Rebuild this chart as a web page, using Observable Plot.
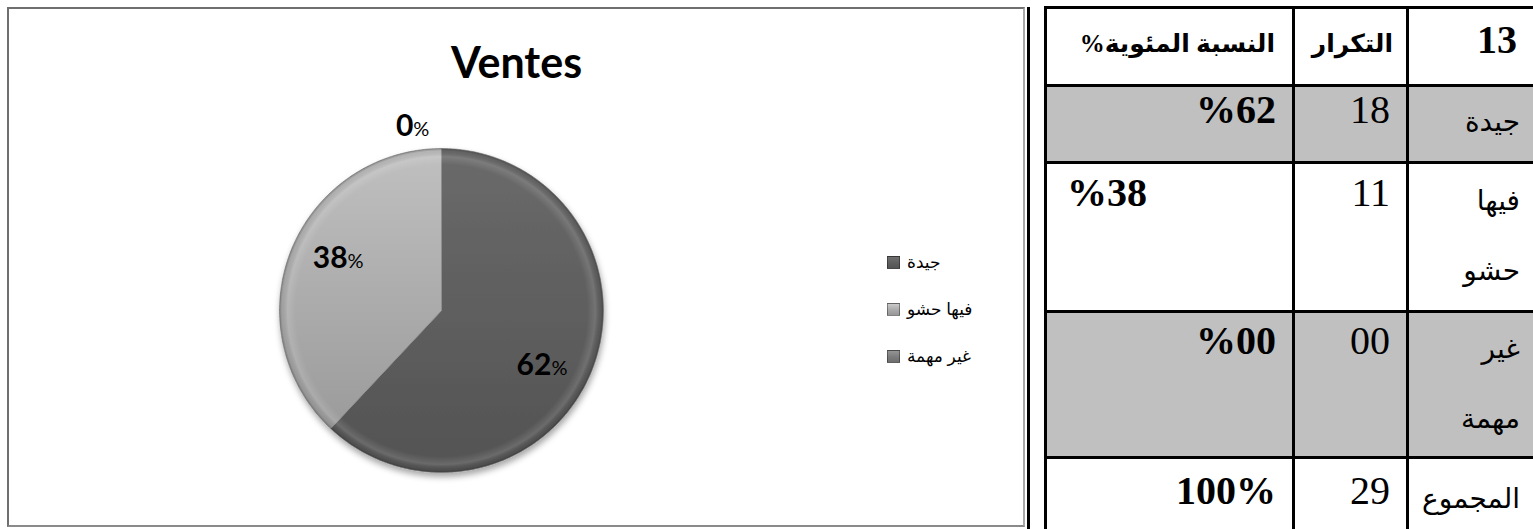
<!DOCTYPE html>
<html>
<head>
<meta charset="utf-8">
<script src="https://cdn.jsdelivr.net/npm/d3@7"></script>
<script src="https://cdn.jsdelivr.net/npm/@observablehq/plot@0.6"></script>
<style>
  html, body { margin: 0; padding: 0; background: #fff; }
  body { width: 1533px; height: 529px; overflow: hidden; position: relative; }
  #box { position: absolute; left: 7px; top: 7px; width: 1018px; height: 520px; box-sizing: border-box;
         border: 2px solid #6f6f6f; border-right-color: #a8a8a8; border-bottom-color: #8a8a8a; }
  #chart { position: absolute; left: 0; top: 0; }
  #vline { position: absolute; left: 1027px; top: 7px; width: 3px; height: 522px; background: #000; }
  #legend { position: absolute; left: 887px; top: 239px; }
  .lrow { height: 47px; display: flex; align-items: center; }
  .sw { width: 13px; height: 13px; box-sizing: border-box; border: 1px solid rgba(0,0,0,0.35); }
  .lt { margin-left: 7px; font-family: "Liberation Sans", Arial, "DejaVu Sans", sans-serif; font-size: 17px; color: #000; direction: rtl; white-space: nowrap; }
  #tbl { position: absolute; left: 1044px; top: 6px; display: grid;
         grid-template-columns: 248px 114px 134px; grid-template-rows: 78px 77px 149px 146px 80px; }
  .cell { box-sizing: border-box; border-left: 3px solid #000; border-top: 3px solid #000; overflow: hidden;
          font-family: "Liberation Serif", "Times New Roman", "DejaVu Sans", serif; color: #000; }
  .grey { background: #c0c0c0; }
  .num { font-size: 40px; line-height: 46px; direction: ltr; white-space: nowrap; }
  .bold { font-weight: bold; }
  .ar { font-size: 28px; line-height: 70px; direction: rtl; text-align: right; padding-right: 20px; white-space: nowrap; }
</style>
</head>
<body>
<div id="box"><div id="chart"></div></div>
<div id="vline"></div>
<div id="legend"></div>
<div id="tbl"></div>
<script>
// ---------- data ----------
const chartTitle = "Ventes";
const categories = ["جيدة", "فيها حشو", "غير مهمة"];
const counts = [18, 11, 0];
const percents = [62, 38, 0];
const countLabels = ["18", "11", "00"];
const percentLabels = ["%62", "%38", "%00"];
const headerLabels = ["13", "التكرار", "النسبة المئوية%"];
const totalLabel = "المجموع";
const totalCount = "29";
const totalPercent = "100%";

// ---------- styles ----------
const sliceFills = ["url(#gDark)", "url(#gLight)", "url(#gMid)"];
const swatchColors = ["#5e5e5e", "#a9a9a9", "#7c7c7c"];

// ---------- pie ----------
const W = 1014, H = 516, CX = 432, CY = 301, R = 162;
const rows = categories.map((c, i) => ({cat: c, pct: percents[i], i}));
const arcs = d3.pie().sort(null).value(d => d.pct)(rows);
const toXY = (a, r) => ({x: r * Math.sin(a), y: r * Math.cos(a)});

const slicePts = arcs.map(a => {
  const pts = [{x: 0, y: 0}];
  const n = Math.max(1, Math.ceil((a.endAngle - a.startAngle) / (Math.PI / 360)));
  for (let k = 0; k <= n; k++) pts.push(toXY(a.startAngle + (a.endAngle - a.startAngle) * k / n, 1));
  pts.push({x: 0, y: 0});
  return pts;
});

const labels = arcs.map(a => {
  const mid = (a.startAngle + a.endAngle) / 2;
  const inside = a.data.pct > 0;
  const ang = mid + (inside ? 6 : -8.5) * Math.PI / 180;
  const r = inside ? 0.71 : 1.155;
  const num = String(a.data.pct);
  const shift = ((num.length * 17 - 18) / 2) / R;
  const p = toXY(ang, r);
  return {num, x: p.x + shift, y: p.y - 11 / R};
});

const plot = Plot.plot({
  width: W, height: H, margin: 0,
  x: {domain: [-1, 1], range: [CX - R, CX + R], axis: null},
  y: {domain: [-1, 1], range: [CY + R, CY - R], axis: null},
  marks: [
    ...slicePts.map((pts, i) => Plot.line(pts, {x: "x", y: "y", fill: sliceFills[i], stroke: "#8f8f8f", strokeWidth: 0.8, strokeLinejoin: "round"})),
    Plot.dot([{x: 0, y: 0}], {x: "x", y: "y", r: R, fill: "url(#bevel)", stroke: "none"}),
    Plot.text(labels, {x: "x", y: "y", text: "num", textAnchor: "end", lineAnchor: "bottom", fontSize: 30, fontWeight: "bold", fontFamily: "Lato", fill: "#000"}),
    Plot.text(labels, {x: "x", y: "y", text: () => "%", textAnchor: "start", lineAnchor: "bottom", fontSize: 20, fontFamily: "Lato", fill: "#000"}),
    Plot.text([chartTitle], {text: d => d, frameAnchor: "top", lineAnchor: "bottom", dy: 68, fontSize: 43, fontWeight: "bold", fontFamily: "Lato", fill: "#000"})
  ]
});

const ns = "http://www.w3.org/2000/svg";
const defs = document.createElementNS(ns, "defs");
defs.innerHTML = `
  <linearGradient id="gDark" x1="0" y1="0" x2="0" y2="1"><stop offset="0" stop-color="#6a6a6a"/><stop offset="1" stop-color="#535353"/></linearGradient>
  <linearGradient id="gLight" x1="0" y1="0" x2="0" y2="1"><stop offset="0" stop-color="#c0c0c0"/><stop offset="1" stop-color="#9b9b9b"/></linearGradient>
  <linearGradient id="gMid" x1="0" y1="0" x2="0" y2="1"><stop offset="0" stop-color="#8a8a8a"/><stop offset="1" stop-color="#707070"/></linearGradient>
  <radialGradient id="bevel" cx="0.5" cy="0.5" r="0.5">
    <stop offset="0.9" stop-color="#fff" stop-opacity="0"/>
    <stop offset="0.95" stop-color="#fff" stop-opacity="0.13"/>
    <stop offset="0.985" stop-color="#000" stop-opacity="0.06"/>
    <stop offset="1" stop-color="#000" stop-opacity="0.28"/>
  </radialGradient>
  <filter id="shadow" x="-20%" y="-20%" width="140%" height="140%">
    <feDropShadow dx="1" dy="4" stdDeviation="3" flood-color="#000" flood-opacity="0.35"/>
  </filter>`;
plot.insertBefore(defs, plot.firstChild);
const lineGroups = plot.querySelectorAll('g[aria-label="line"]');
if (lineGroups.length) {
  const g = document.createElementNS(ns, "g");
  g.setAttribute("filter", "url(#shadow)");
  lineGroups[0].before(g);
  lineGroups.forEach(l => g.appendChild(l));
}
document.getElementById("chart").appendChild(plot);

// ---------- legend ----------
const legend = document.getElementById("legend");
categories.forEach((c, i) => {
  const row = document.createElement("div");
  row.className = "lrow";
  const sw = document.createElement("div");
  sw.className = "sw";
  sw.style.background = `linear-gradient(180deg, ${d3.color(swatchColors[i]).brighter(0.5)} 0%, ${swatchColors[i]} 55%, ${d3.color(swatchColors[i]).darker(0.3)} 100%)`;
  const t = document.createElement("span");
  t.className = "lt";
  t.textContent = c;
  row.append(sw, t);
  legend.appendChild(row);
});

// ---------- table ----------
const tbl = document.getElementById("tbl");
const rowPad = [8, 0, 6, 5, 9];
const greyRows = [1, 3];
function cell(r, content, cls, style) {
  const d = document.createElement("div");
  d.className = "cell" + (greyRows.includes(r) ? " grey" : "");
  const inner = document.createElement("div");
  inner.className = cls;
  Object.assign(inner.style, style);
  if (Array.isArray(content)) content.forEach((w, k) => { if (k) inner.appendChild(document.createElement("br")); inner.appendChild(document.createTextNode(w)); });
  else inner.textContent = content;
  d.appendChild(inner);
  tbl.appendChild(d);
}
const tableRows = [
  {pct: headerLabels[2], cnt: headerLabels[1], cat: headerLabels[0], header: true},
  ...categories.map((c, i) => ({pct: percentLabels[i], cnt: countLabels[i], cat: c})),
  {pct: totalPercent, cnt: totalCount, cat: totalLabel}
];
tableRows.forEach((row, r) => {
  const pad = rowPad[r] + "px";
  if (row.header) {
    cell(r, row.pct, "ar bold", {paddingTop: (rowPad[r] - 12) + "px", paddingRight: "17px", fontSize: "25px"});
    cell(r, row.cnt, "ar bold", {paddingTop: (rowPad[r] - 12) + "px", paddingRight: "13px", fontSize: "25px"});
    cell(r, row.cat, "num bold", {paddingTop: pad, paddingRight: "23px", textAlign: "right", fontSize: "40px"});
  } else {
    const left = r === 2;
    cell(r, row.pct, "num bold", {paddingTop: pad, textAlign: left ? "left" : "right", paddingLeft: left ? "20px" : "0", paddingRight: left ? "0" : "16px"});
    cell(r, row.cnt, "num", {paddingTop: pad, textAlign: "right", paddingRight: "16px"});
    cell(r, row.cat.split(" "), "ar", {paddingTop: (rowPad[r] - 4) + "px"});
  }
});
</script>
</body>
</html>
